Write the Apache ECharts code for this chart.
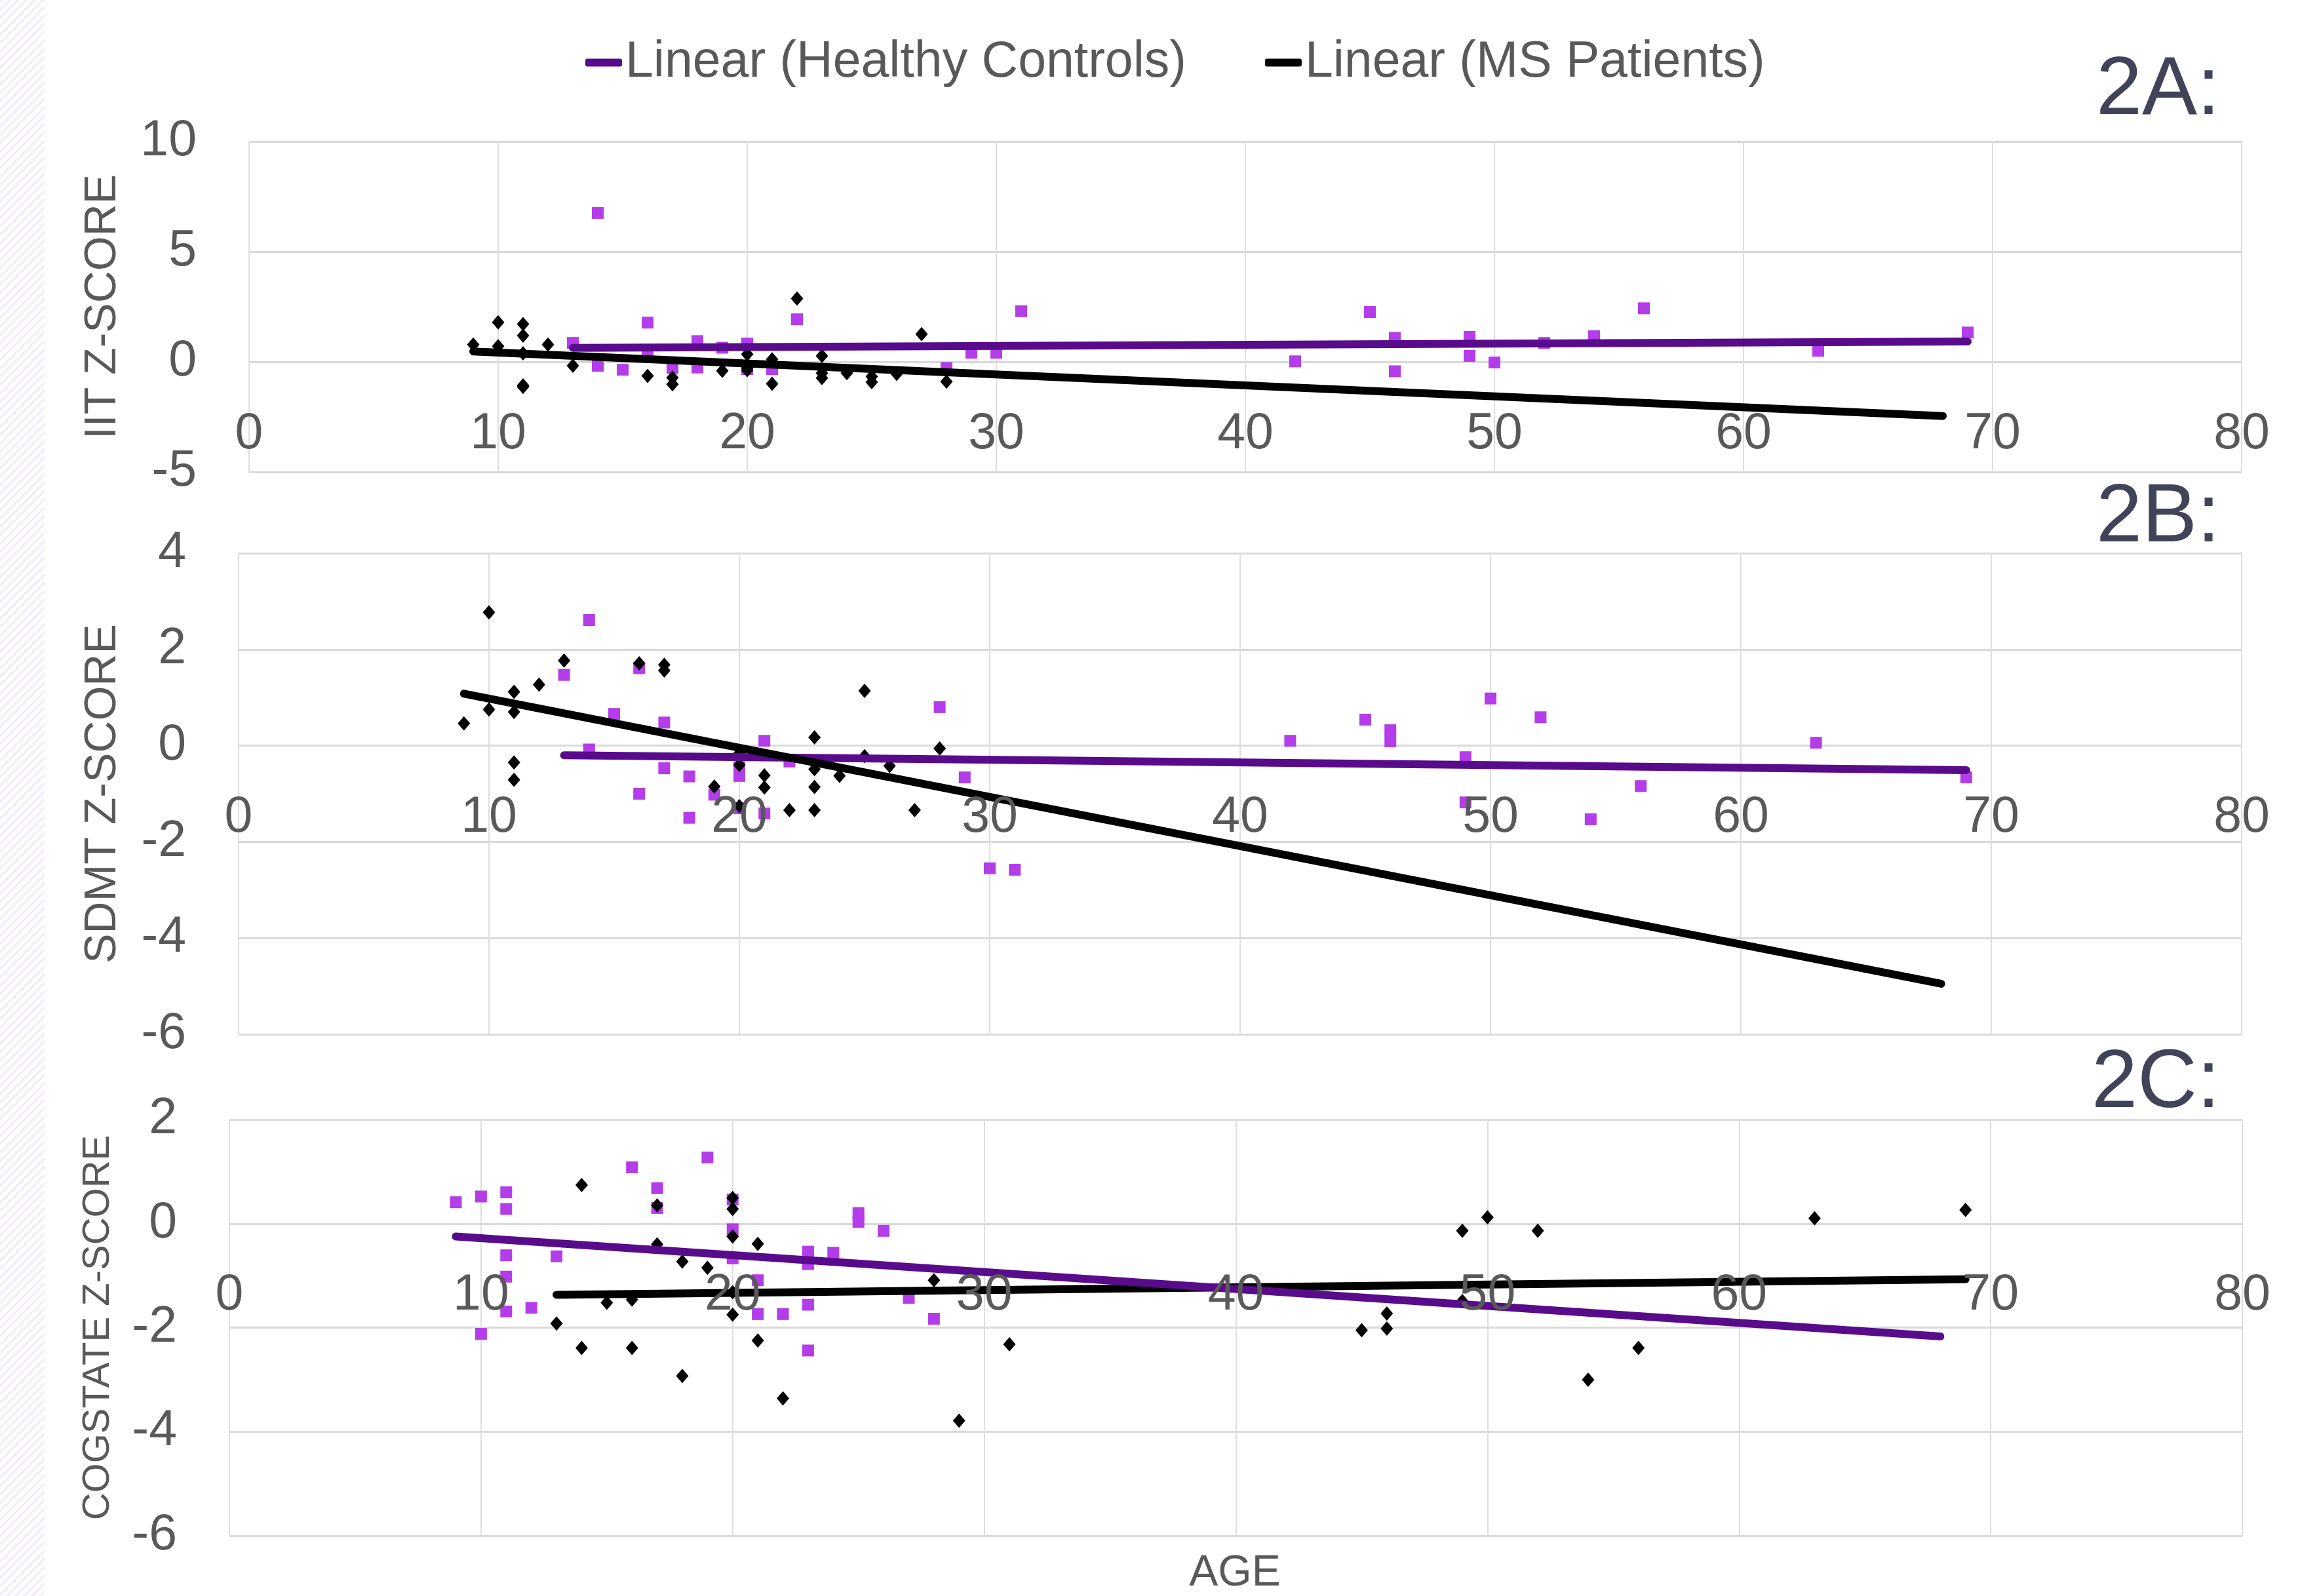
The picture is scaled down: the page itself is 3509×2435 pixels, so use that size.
<!DOCTYPE html>
<html>
<head>
<meta charset="utf-8">
<script src="https://cdn.jsdelivr.net/npm/echarts@6/dist/echarts.min.js"></script>
<style>
html,body{margin:0;padding:0;background:#ffffff;}
#stripe{position:absolute;left:0;top:0;width:68px;height:2435px;
  background:repeating-linear-gradient(135deg,#f3eafc 0px,#f3eafc 3px,#ffffff 3px,#ffffff 9px);}
#chart{position:absolute;left:0;top:0;width:3509px;height:2435px;}
</style>
</head>
<body>
<div id="stripe"></div>
<div id="chart"></div>
<script>
// ---------- axis ticks ----------
const ageMin = 0, ageMax = 80, ageStep = 10;
const iitRange = [-5, 10, 5];
const sdmtRange = [-6, 4, 2];
const cogRange = [-6, 2, 2];

// ---------- Panel 2A: IIT Z-SCORE ----------
const iitHealthyAge = [13,14,14,15,16,16,17,18,18,19,20,20,21,22,28,29,30,31,42,45,46,46,49,49,50,52,54,56,63,69];
const iitHealthyZ   = [0.86,6.76,-0.18,-0.36,1.78,0.47,-0.28,0.94,-0.26,0.64,0.83,-0.33,-0.33,1.93,-0.28,0.41,0.41,2.30,0.02,2.26,1.09,-0.43,1.13,0.27,-0.03,0.86,1.16,2.43,0.50,1.33];
const iitMsAge = [9,10,10,11,11,11,11,11,12,13,16,17,17,19,20,20,20,21,21,22,23,23,23,24,25,25,26,27,28];
const iitMsZ   = [0.78,1.79,0.71,1.71,1.19,0.39,-1.07,-1.14,0.78,-0.18,-0.64,-0.72,-1.02,-0.41,0.34,-0.28,-0.38,0.11,-1.0,2.87,0.27,-0.51,-0.74,-0.51,-0.67,-0.92,-0.55,1.26,-0.9];
const iitHealthyTrendAge = [13,69], iitHealthyTrendZ = [0.63,0.92];
const iitMsTrendAge = [9,68],      iitMsTrendZ = [0.47,-2.46];

// ---------- Panel 2B: SDMT Z-SCORE ----------
const sdmtHealthyAge = [13,14,14,15,16,16,17,17,18,18,19,20,20,20,21,21,22,28,29,30,31,42,45,46,46,49,49,50,52,54,56,63,69];
const sdmtHealthyZ   = [1.47,2.61,-0.08,0.66,1.61,-1.0,0.48,-0.47,-0.64,-1.5,-1.02,-0.45,-0.63,-1.3,0.1,-1.41,-0.33,0.8,-0.66,-2.55,-2.58,0.1,0.54,0.32,0.09,-0.24,-1.18,0.98,0.59,-1.53,-0.84,0.06,-0.66];
const sdmtMsAge = [9,10,10,11,11,11,11,12,13,16,17,17,19,20,20,20,21,21,22,23,23,23,23,24,25,25,26,27,28];
const sdmtMsZ   = [0.46,2.77,0.75,1.12,0.70,-0.35,-0.71,1.27,1.77,1.71,1.68,1.56,-0.85,-0.16,-0.4,-1.26,-0.62,-0.87,-1.34,0.17,-0.49,-0.86,-1.34,-0.63,1.14,-0.22,-0.42,-1.34,-0.06];
const sdmtHealthyTrendAge = [13,69], sdmtHealthyTrendZ = [-0.20,-0.51];
const sdmtMsTrendAge = [9,68],      sdmtMsTrendZ = [1.08,-4.95];

// ---------- Panel 2C: COGSTATE Z-SCORE ----------
const cogPurpleAge = [9,10,10,11,11,11,11,11,12,13,16,17,17,19,20,20,20,21,21,22,23,23,23,23,24,25,25,26,27,28];
const cogPurpleZ   = [0.41,0.52,-2.12,0.6,0.28,-0.61,-1.02,-1.69,-1.62,-0.63,1.08,0.68,0.3,1.27,0.46,-0.11,-0.67,-1.09,-1.74,-1.74,-0.54,-0.78,-1.56,-2.44,-0.56,0.2,0.03,-0.14,-1.43,-1.83];
const cogBlackAge = [13,14,14,15,16,16,17,17,18,18,19,20,20,20,20,20,21,21,22,28,29,31,45,46,46,49,49,50,52,54,56,63,69];
const cogBlackZ   = [-1.92,0.74,-2.39,-1.52,-1.46,-2.39,-0.4,0.35,-0.73,-2.93,-0.85,0.49,0.28,-0.25,-1.32,-1.75,-0.39,-2.25,-3.36,-1.09,-3.79,-2.32,-2.05,-1.73,-2.02,-0.14,-1.49,0.12,-0.14,-3.0,-2.39,0.1,0.26];
const cogPurpleTrendAge = [9,68], cogPurpleTrendZ = [-0.25,-2.17];
const cogBlackTrendAge = [13,69], cogBlackTrendZ = [-1.37,-1.07];

const legendNames = ['Linear (Healthy Controls)', 'Linear (MS Patients)'];
const yNames = ['IIT Z-SCORE', 'SDMT Z-SCORE', 'COGSTATE Z-SCORE'];

// ---------- styles ----------
const FONT = 'Liberation Sans';
const TXT = '#595959';
const SQUARE = '#b33de8';
const TREND_PURPLE = '#580b8b';
const BLACK = '#000000';

function zip(xs, ys){ return xs.map((x,i)=>[x, ys[i]]); }

const grids = [
  {left:380, top:216, width:3040, height:504, outerBoundsMode:'none'},
  {left:364, top:844, width:3056, height:734, outerBoundsMode:'none'},
  {left:350, top:1708, width:3071, height:635, outerBoundsMode:'none'}
];
const ranges = [iitRange, sdmtRange, cogRange];
const nameGaps = [189, 173, 171];
const nameSizes = [68, 68, 58];

const xAxes = [], yAxes = [];
grids.forEach((g, i) => {
  const r = ranges[i];
  // the age axis crosses the value axis at 0: shift the label axis up from the grid bottom
  const zeroShift = -g.height * (0 - r[0]) / (r[1] - r[0]);
  // gridline-only axis (below the marks)
  xAxes.push({type:'value', gridIndex:i, min:ageMin, max:ageMax, interval:ageStep, position:'bottom',
    axisLine:{show:false, onZero:false}, axisTick:{show:false},
    axisLabel:{show:false}, splitLine:{show:true, lineStyle:{color:'#dedede', width:2}}, z:0});
  // label axis at zero (above the marks)
  xAxes.push({type:'value', gridIndex:i, min:ageMin, max:ageMax, interval:ageStep, position:'bottom',
    offset: zeroShift,
    axisLine:{show:false, onZero:false}, axisTick:{show:false}, splitLine:{show:false},
    axisLabel:{show:true, margin:72, fontSize:77, color:TXT, fontFamily:FONT}, z:20});
  yAxes.push({type:'value', gridIndex:i, min:r[0], max:r[1], interval:r[2],
    axisLine:{show:false, onZero:false}, axisTick:{show:false},
    axisLabel:{margin:80, fontSize:77, color:TXT, fontFamily:FONT},
    splitLine:{show:true, lineStyle:{color:'#d9d9d9', width:3}},
    name:yNames[i], nameLocation:'middle', nameGap:nameGaps[i],
    nameTextStyle:{fontSize:nameSizes[i], color:TXT, fontFamily:FONT}});
});

function scatter(name, gi, xs, ys, shape, color){
  return {type:'scatter', name:name, xAxisIndex:gi*2, yAxisIndex:gi, data:zip(xs, ys),
    symbol:shape, symbolSize: shape==='rect' ? 18 : [19,22],
    itemStyle:{color:color, opacity:1}, z:3, silent:true};
}
function trend(name, gi, xs, ys, color, z){
  return {type:'line', name:name, xAxisIndex:gi*2, yAxisIndex:gi, data:zip(xs, ys),
    showSymbol:false, symbol:'none', lineStyle:{color:color, width:12, cap:'round'},
    itemStyle:{color:color}, z:z, silent:true, animation:false};
}

const series = [
  scatter('A healthy', 0, iitHealthyAge, iitHealthyZ, 'rect', SQUARE),
  scatter('A ms', 0, iitMsAge, iitMsZ, 'diamond', BLACK),
  trend(legendNames[0], 0, iitHealthyTrendAge, iitHealthyTrendZ, TREND_PURPLE, 10),
  trend(legendNames[1], 0, iitMsTrendAge, iitMsTrendZ, BLACK, 11),

  scatter('B healthy', 1, sdmtHealthyAge, sdmtHealthyZ, 'rect', SQUARE),
  scatter('B ms', 1, sdmtMsAge, sdmtMsZ, 'diamond', BLACK),
  trend('B trend healthy', 1, sdmtHealthyTrendAge, sdmtHealthyTrendZ, TREND_PURPLE, 10),
  trend('B trend ms', 1, sdmtMsTrendAge, sdmtMsTrendZ, BLACK, 11),

  scatter('C purple', 2, cogPurpleAge, cogPurpleZ, 'rect', SQUARE),
  scatter('C black', 2, cogBlackAge, cogBlackZ, 'diamond', BLACK),
  trend('C trend black', 2, cogBlackTrendAge, cogBlackTrendZ, BLACK, 10),
  trend('C trend purple', 2, cogPurpleTrendAge, cogPurpleTrendZ, TREND_PURPLE, 11)
];

const chart = echarts.init(document.getElementById('chart'), null, {renderer:'canvas'});
chart.setOption({
  animation:false,
  backgroundColor:'transparent',
  grid: grids,
  xAxis: xAxes,
  yAxis: yAxes,
  legend: {left:888, top:52, itemWidth:56, itemHeight:12, itemGap:120, icon:'roundRect',
    textStyle:{fontSize:77, color:TXT, fontFamily:FONT}, data:legendNames, selectedMode:false},
  graphic: [
    {type:'text', x:3387, y:139, style:{text:'2A:', fontSize:126, fontFamily:FONT, fill:'#414458', align:'right', verticalAlign:'middle'}},
    {type:'text', x:3387, y:791, style:{text:'2B:', fontSize:126, fontFamily:FONT, fill:'#414458', align:'right', verticalAlign:'middle'}},
    {type:'text', x:3387, y:1654, style:{text:'2C:', fontSize:126, fontFamily:FONT, fill:'#414458', align:'right', verticalAlign:'middle'}},
    {type:'text', x:1884, y:2401, style:{text:'AGE', fontSize:66, fontFamily:FONT, fill:TXT, align:'center', verticalAlign:'middle'}}
  ],
  series: series
});
</script>
</body>
</html>
